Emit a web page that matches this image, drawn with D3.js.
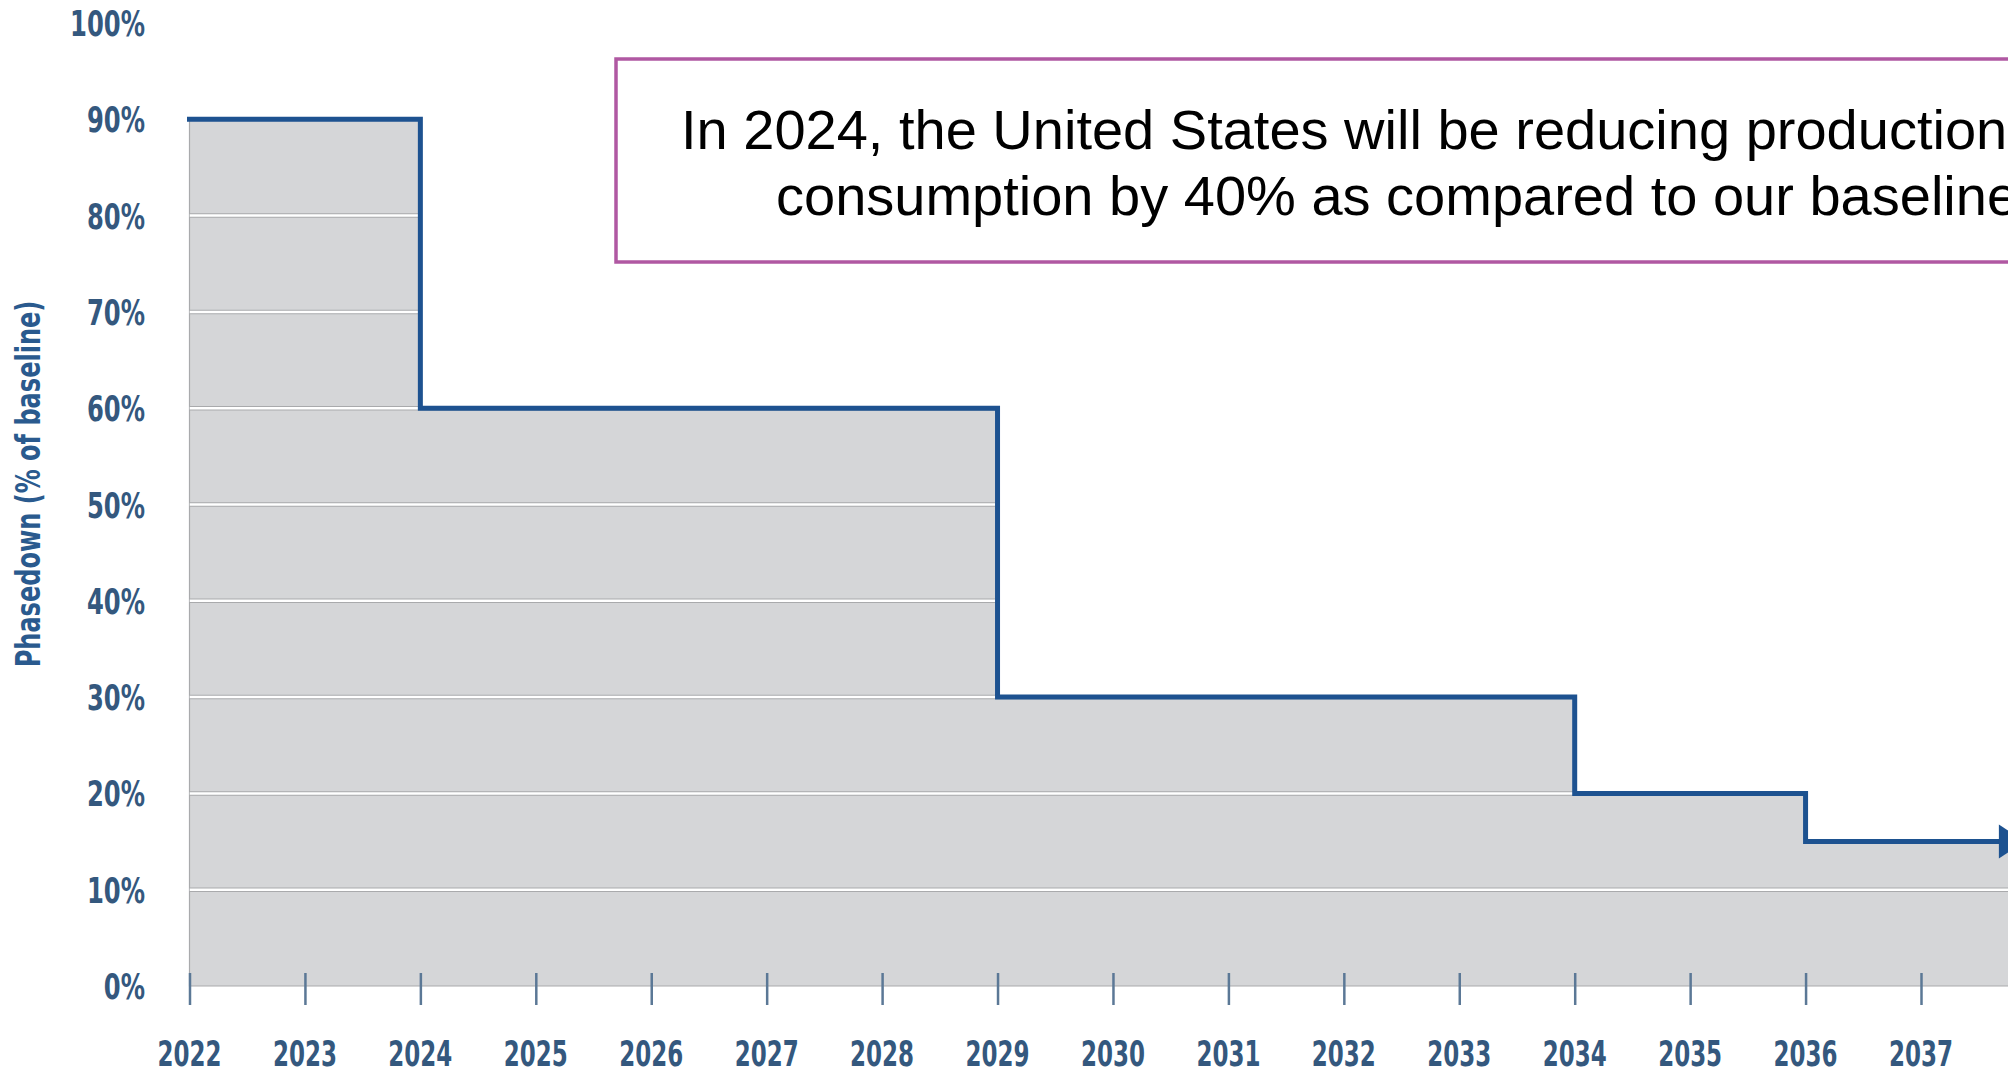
<!DOCTYPE html>
<html>
<head>
<meta charset="utf-8">
<script src="https://cdn.jsdelivr.net/npm/d3@7"></script>
<style>
  html, body { margin: 0; padding: 0; background: #fff; overflow: hidden; }
  svg { display: block; }
</style>
</head>
<body>
<svg id="chart" width="2008" height="1075"></svg>
<script>

/*****************************/
/*           Data            */
/*****************************/
const years       = d3.range(2022, 2038);
const stepYears   = [2022, 2024, 2029, 2034, 2036];
const stepValues  = [90, 60, 30, 20, 15];
const arrowYear   = 2037.9;
const yTickValues = [0, 10, 20, 30, 40, 50, 60, 70, 80, 90, 100];
const gridValues  = [10, 20, 30, 40, 50, 60, 70, 80];
const yTitle      = "Phasedown (% of baseline)";
const noteLines   = [
  "In 2024, the United States will be reducing production and",
  "consumption by 40% as compared to our baseline."
];

/*****************************/
/*          Layout           */
/*****************************/
const width  = 2008;
const narrow = "'DejaVu Sans Condensed', 'DejaVu Sans', sans-serif";
const axisColor = "#34587e";
const noteX = [681, 776];

const svg = d3.select("#chart");

const xScale = d3.scaleLinear()
  .domain([2022, 2037])
  .range([189.5, 1921]);

const yScale = d3.scaleLinear()
  .domain([0, 100])
  .range([986, 23]);

const steps = stepYears.map((yr, i) => ({ year: yr, value: stepValues[i] }));
const lastValue = stepValues[stepValues.length - 1];

/*****************************/
/*     Shaded step area      */
/*****************************/
const areaData = [...steps, { year: 2039, value: lastValue }];

const area = d3.area()
  .curve(d3.curveStepAfter)
  .x(d => xScale(d.year))
  .y0(yScale(0))
  .y1(d => yScale(d.value));

svg.append("clipPath")
  .attr("id", "area-clip")
  .append("path")
    .attr("d", area(areaData));

svg.append("path")
  .attr("d", area(areaData))
  .attr("fill", "#d5d6d8")
  .attr("stroke", "#a9aaac")
  .attr("stroke-width", 1.2);

const grid = svg.append("g").attr("clip-path", "url(#area-clip)");

grid.selectAll(".grid-dark")
  .data(gridValues)
  .join("line")
    .attr("class", "grid-dark")
    .attr("x1", xScale(2022))
    .attr("x2", width)
    .attr("y1", d => yScale(d))
    .attr("y2", d => yScale(d))
    .attr("stroke", "#a9aaac")
    .attr("stroke-width", 4.5);

grid.selectAll(".grid-light")
  .data(gridValues)
  .join("line")
    .attr("class", "grid-light")
    .attr("x1", xScale(2022))
    .attr("x2", width)
    .attr("y1", d => yScale(d))
    .attr("y2", d => yScale(d))
    .attr("stroke", "#ffffff")
    .attr("stroke-width", 2.5);

/*****************************/
/*         Step line         */
/*****************************/
const lineColor = "#1d5290";
const tipX  = xScale(arrowYear);
const baseX = tipX - 26;

const lineData = [...steps, { year: xScale.invert(baseX), value: lastValue }];

const line = d3.line()
  .curve(d3.curveStepAfter)
  .x(d => xScale(d.year))
  .y(d => yScale(d.value));

svg.append("path")
  .attr("d", line(lineData))
  .attr("fill", "none")
  .attr("stroke", lineColor)
  .attr("stroke-width", 5)
  .attr("stroke-linejoin", "miter")
  .attr("stroke-linecap", "square");

const ay = yScale(lastValue);
svg.append("path")
  .attr("d", `M${baseX},${ay - 17}L${tipX},${ay}L${baseX},${ay + 17}Z`)
  .attr("fill", lineColor);

/*****************************/
/*          X axis           */
/*****************************/
const xAxis = svg.append("g")
  .attr("transform", `translate(0, ${yScale(0) - 13})`)
  .call(d3.axisBottom(xScale)
    .tickValues(years)
    .tickFormat(d3.format("d"))
    .tickSize(32)
    .tickPadding(0));

xAxis.select(".domain").remove();
xAxis.selectAll(".tick text").remove();

xAxis.selectAll(".tick line")
  .attr("stroke", "#5b7896")
  .attr("stroke-width", 2.5);

// condensed labels, squeezed horizontally like the original typeface
svg.append("g")
  .selectAll(".x-label")
  .data(years)
  .join("text")
    .attr("class", "x-label")
    .attr("transform", d => `translate(${xScale(d)}, 1066) scale(0.72, 1)`)
    .attr("text-anchor", "middle")
    .attr("fill", axisColor)
    .style("font-family", narrow)
    .style("font-weight", 700)
    .style("font-size", "35.5px")
    .text(d => d);

/*****************************/
/*          Y axis           */
/*****************************/
svg.append("g")
  .selectAll(".y-label")
  .data(yTickValues)
  .join("text")
    .attr("class", "y-label")
    .attr("transform", d => `translate(145, ${yScale(d) + 13}) scale(0.76, 1)`)
    .attr("text-anchor", "end")
    .attr("fill", axisColor)
    .style("font-family", narrow)
    .style("font-weight", 700)
    .style("font-size", "35.5px")
    .text(d => d + "%");

svg.append("text")
  .attr("transform", `translate(40, 484) rotate(-90) scale(0.81, 1)`)
  .attr("text-anchor", "middle")
  .attr("fill", "#2a5a8e")
  .style("font-family", narrow)
  .style("font-weight", 700)
  .style("font-size", "33px")
  .text(yTitle);

/*****************************/
/*        Annotation         */
/*****************************/
svg.append("rect")
  .attr("x", 616)
  .attr("y", 59)
  .attr("width", 1600)
  .attr("height", 203)
  .attr("fill", "#ffffff")
  .attr("stroke", "#b058a2")
  .attr("stroke-width", 3.5);

svg.append("g")
  .selectAll(".note")
  .data(noteLines)
  .join("text")
    .attr("class", "note")
    .attr("x", (_, i) => noteX[i])
    .attr("y", (_, i) => 149 + i * 66)
    .attr("fill", "#000000")
    .style("font-family", "'Liberation Sans', Arial, sans-serif")
    .style("font-size", "56px")
    .text(d => d);

</script>
</body>
</html>
